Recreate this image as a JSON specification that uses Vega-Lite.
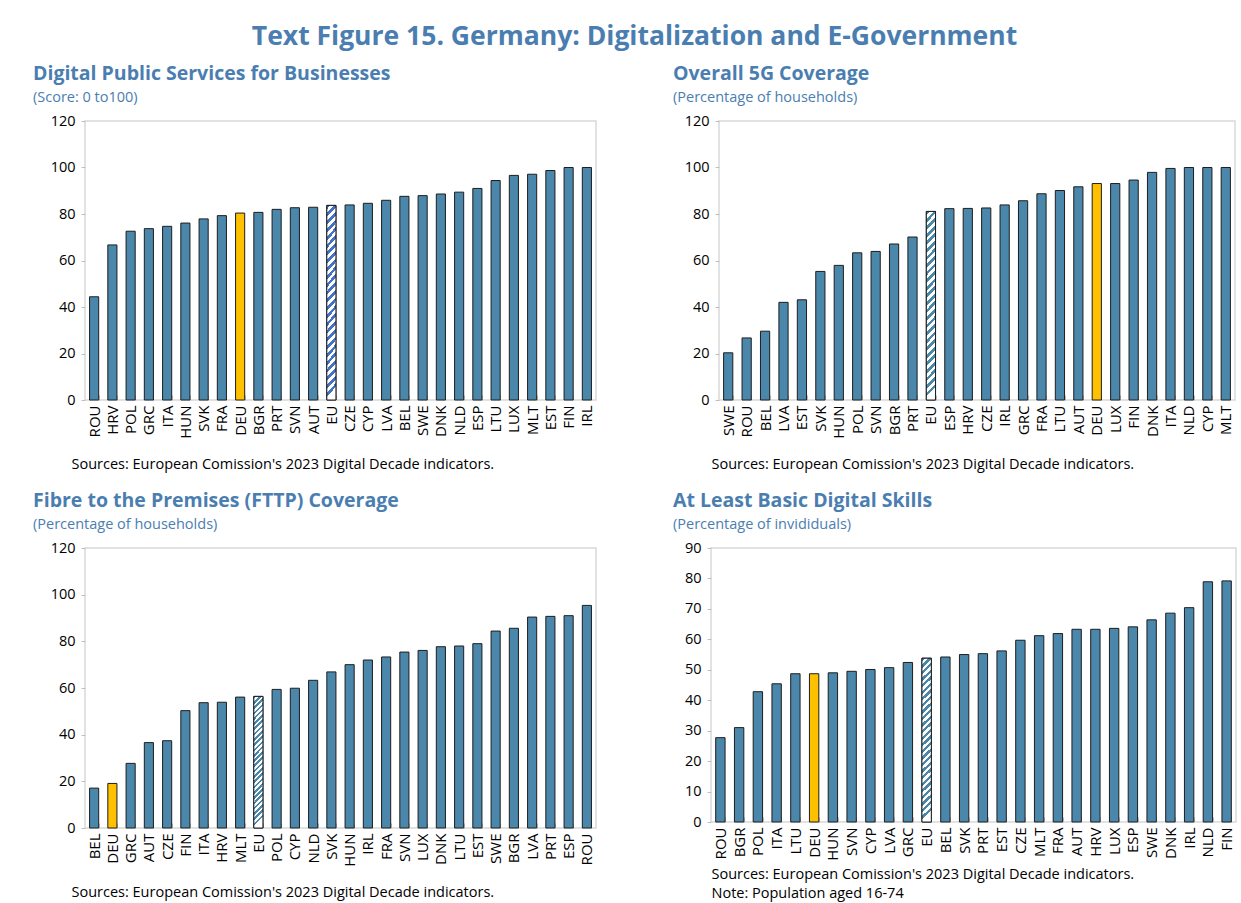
{
  "$schema": "https://vega.github.io/schema/vega-lite/v6.json",
  "background": "#ffffff",
  "padding": {"left": 32, "top": 23, "right": 5, "bottom": 5},
  "title": {"text": "Text Figure 15. Germany: Digitalization and E-Government", "anchor": "middle", "frame": "bounds", "fontSize": 26.5, "color": "#4a7eb0", "font": "Open Sans", "fontWeight": "bold", "offset": 13},
  "vconcat": [
    {
      "hconcat": [
        {
          "width": 511, "height": 279,
          "title": {"text": "Digital Public Services for Businesses", "subtitle": "(Score: 0 to100)", "dx": -52},
          "data": {"values": [
            {"c": "ROU", "v": 44.4}, {"c": "HRV", "v": 66.7}, {"c": "POL", "v": 72.6}, {"c": "GRC", "v": 73.7},
            {"c": "ITA", "v": 74.7}, {"c": "HUN", "v": 76.1}, {"c": "SVK", "v": 77.9}, {"c": "FRA", "v": 79.3},
            {"c": "DEU", "v": 80.4}, {"c": "BGR", "v": 80.7}, {"c": "PRT", "v": 82.0}, {"c": "SVN", "v": 82.7},
            {"c": "AUT", "v": 82.9}, {"c": "EU", "v": 83.7}, {"c": "CZE", "v": 83.9}, {"c": "CYP", "v": 84.6},
            {"c": "LVA", "v": 85.9}, {"c": "BEL", "v": 87.6}, {"c": "SWE", "v": 87.9}, {"c": "DNK", "v": 88.6},
            {"c": "NLD", "v": 89.4}, {"c": "ESP", "v": 91.0}, {"c": "LTU", "v": 94.4}, {"c": "LUX", "v": 96.6},
            {"c": "MLT", "v": 97.1}, {"c": "EST", "v": 98.7}, {"c": "FIN", "v": 100}, {"c": "IRL", "v": 100}
          ]},
          "encoding": {
            "x": {"field": "c", "type": "nominal", "sort": null, "scale": {"paddingInner": 0.5, "paddingOuter": 0.25}, "axis": {"title": "Sources: European Comission's 2023 Digital Decade indicators.", "titleX": -14}},
            "y": {"field": "v", "type": "quantitative", "scale": {"domain": [0, 120], "nice": false}, "axis": {"values": [0, 20, 40, 60, 80, 100, 120]}}
          },
          "layer": [
            {"mark": {"type": "bar", "stroke": "#1e1e1e", "strokeWidth": 1}, "encoding": {"fill": {"condition": {"test": "datum.c === 'DEU'", "value": "#ffc000"}, "value": "#4a87ab"}}},
            {"transform": [{"filter": "datum.c === 'EU'"}], "mark": {"type": "bar", "stroke": "#1e1e1e", "strokeWidth": 1, "fill": {"gradient": "linear", "x1": 0, "y1": 0, "x2": 0.05, "y2": 1, "stops": [
              {"offset": 0, "color": "#4472c4"}, {"offset": 0.02, "color": "#4472c4"}, {"offset": 0.02, "color": "#ffffff"}, {"offset": 0.04, "color": "#ffffff"},
              {"offset": 0.04, "color": "#4472c4"}, {"offset": 0.06, "color": "#4472c4"}, {"offset": 0.06, "color": "#ffffff"}, {"offset": 0.08, "color": "#ffffff"},
              {"offset": 0.08, "color": "#4472c4"}, {"offset": 0.1, "color": "#4472c4"}, {"offset": 0.1, "color": "#ffffff"}, {"offset": 0.12, "color": "#ffffff"},
              {"offset": 0.12, "color": "#4472c4"}, {"offset": 0.14, "color": "#4472c4"}, {"offset": 0.14, "color": "#ffffff"}, {"offset": 0.16, "color": "#ffffff"},
              {"offset": 0.16, "color": "#4472c4"}, {"offset": 0.18, "color": "#4472c4"}, {"offset": 0.18, "color": "#ffffff"}, {"offset": 0.2, "color": "#ffffff"},
              {"offset": 0.2, "color": "#4472c4"}, {"offset": 0.22, "color": "#4472c4"}, {"offset": 0.22, "color": "#ffffff"}, {"offset": 0.24, "color": "#ffffff"},
              {"offset": 0.24, "color": "#4472c4"}, {"offset": 0.26, "color": "#4472c4"}, {"offset": 0.26, "color": "#ffffff"}, {"offset": 0.28, "color": "#ffffff"},
              {"offset": 0.28, "color": "#4472c4"}, {"offset": 0.3, "color": "#4472c4"}, {"offset": 0.3, "color": "#ffffff"}, {"offset": 0.32, "color": "#ffffff"},
              {"offset": 0.32, "color": "#4472c4"}, {"offset": 0.34, "color": "#4472c4"}, {"offset": 0.34, "color": "#ffffff"}, {"offset": 0.36, "color": "#ffffff"},
              {"offset": 0.36, "color": "#4472c4"}, {"offset": 0.38, "color": "#4472c4"}, {"offset": 0.38, "color": "#ffffff"}, {"offset": 0.4, "color": "#ffffff"},
              {"offset": 0.4, "color": "#4472c4"}, {"offset": 0.42, "color": "#4472c4"}, {"offset": 0.42, "color": "#ffffff"}, {"offset": 0.44, "color": "#ffffff"},
              {"offset": 0.44, "color": "#4472c4"}, {"offset": 0.46, "color": "#4472c4"}, {"offset": 0.46, "color": "#ffffff"}, {"offset": 0.48, "color": "#ffffff"},
              {"offset": 0.48, "color": "#4472c4"}, {"offset": 0.5, "color": "#4472c4"}, {"offset": 0.5, "color": "#ffffff"}, {"offset": 0.52, "color": "#ffffff"},
              {"offset": 0.52, "color": "#4472c4"}, {"offset": 0.54, "color": "#4472c4"}, {"offset": 0.54, "color": "#ffffff"}, {"offset": 0.56, "color": "#ffffff"},
              {"offset": 0.56, "color": "#4472c4"}, {"offset": 0.58, "color": "#4472c4"}, {"offset": 0.58, "color": "#ffffff"}, {"offset": 0.6, "color": "#ffffff"},
              {"offset": 0.6, "color": "#4472c4"}, {"offset": 0.62, "color": "#4472c4"}, {"offset": 0.62, "color": "#ffffff"}, {"offset": 0.64, "color": "#ffffff"},
              {"offset": 0.64, "color": "#4472c4"}, {"offset": 0.66, "color": "#4472c4"}, {"offset": 0.66, "color": "#ffffff"}, {"offset": 0.68, "color": "#ffffff"},
              {"offset": 0.68, "color": "#4472c4"}, {"offset": 0.7, "color": "#4472c4"}, {"offset": 0.7, "color": "#ffffff"}, {"offset": 0.72, "color": "#ffffff"},
              {"offset": 0.72, "color": "#4472c4"}, {"offset": 0.74, "color": "#4472c4"}, {"offset": 0.74, "color": "#ffffff"}, {"offset": 0.76, "color": "#ffffff"},
              {"offset": 0.76, "color": "#4472c4"}, {"offset": 0.78, "color": "#4472c4"}, {"offset": 0.78, "color": "#ffffff"}, {"offset": 0.8, "color": "#ffffff"},
              {"offset": 0.8, "color": "#4472c4"}, {"offset": 0.82, "color": "#4472c4"}, {"offset": 0.82, "color": "#ffffff"}, {"offset": 0.84, "color": "#ffffff"},
              {"offset": 0.84, "color": "#4472c4"}, {"offset": 0.86, "color": "#4472c4"}, {"offset": 0.86, "color": "#ffffff"}, {"offset": 0.88, "color": "#ffffff"},
              {"offset": 0.88, "color": "#4472c4"}, {"offset": 0.9, "color": "#4472c4"}, {"offset": 0.9, "color": "#ffffff"}, {"offset": 0.92, "color": "#ffffff"},
              {"offset": 0.92, "color": "#4472c4"}, {"offset": 0.94, "color": "#4472c4"}, {"offset": 0.94, "color": "#ffffff"}, {"offset": 0.96, "color": "#ffffff"},
              {"offset": 0.96, "color": "#4472c4"}, {"offset": 0.98, "color": "#4472c4"}, {"offset": 0.98, "color": "#ffffff"}, {"offset": 1, "color": "#ffffff"}
            ]}}}
          ]
        },
        {
          "width": 516, "height": 279,
          "title": {"text": "Overall 5G Coverage", "subtitle": "(Percentage of households)", "dx": -46},
          "data": {"values": [
            {"c": "SWE", "v": 20.3}, {"c": "ROU", "v": 26.7}, {"c": "BEL", "v": 29.6}, {"c": "LVA", "v": 42.0},
            {"c": "EST", "v": 43.1}, {"c": "SVK", "v": 55.3}, {"c": "HUN", "v": 57.9}, {"c": "POL", "v": 63.3},
            {"c": "SVN", "v": 63.9}, {"c": "BGR", "v": 67.1}, {"c": "PRT", "v": 70.1}, {"c": "EU", "v": 81.1},
            {"c": "ESP", "v": 82.3}, {"c": "HRV", "v": 82.4}, {"c": "CZE", "v": 82.6}, {"c": "IRL", "v": 83.9},
            {"c": "GRC", "v": 85.7}, {"c": "FRA", "v": 88.7}, {"c": "LTU", "v": 90.1}, {"c": "AUT", "v": 91.7},
            {"c": "DEU", "v": 93.1}, {"c": "LUX", "v": 93.1}, {"c": "FIN", "v": 94.6}, {"c": "DNK", "v": 97.9},
            {"c": "ITA", "v": 99.6}, {"c": "NLD", "v": 100}, {"c": "CYP", "v": 100}, {"c": "MLT", "v": 100}
          ]},
          "encoding": {
            "x": {"field": "c", "type": "nominal", "sort": null, "scale": {"paddingInner": 0.5, "paddingOuter": 0.25}, "axis": {"title": "Sources: European Comission's 2023 Digital Decade indicators.", "titleX": -8}},
            "y": {"field": "v", "type": "quantitative", "scale": {"domain": [0, 120], "nice": false}, "axis": {"values": [0, 20, 40, 60, 80, 100, 120]}}
          },
          "layer": [
            {"mark": {"type": "bar", "stroke": "#1e1e1e", "strokeWidth": 1}, "encoding": {"fill": {"condition": {"test": "datum.c === 'DEU'", "value": "#ffc000"}, "value": "#4a87ab"}}},
            {"transform": [{"filter": "datum.c === 'EU'"}], "mark": {"type": "bar", "stroke": "#1e1e1e", "strokeWidth": 1, "fill": {"gradient": "linear", "x1": 0, "y1": 0, "x2": 0.05, "y2": 1, "stops": [
              {"offset": 0, "color": "#4a88ab"}, {"offset": 0.02, "color": "#4a88ab"}, {"offset": 0.02, "color": "#ffffff"}, {"offset": 0.04, "color": "#ffffff"},
              {"offset": 0.04, "color": "#4a88ab"}, {"offset": 0.06, "color": "#4a88ab"}, {"offset": 0.06, "color": "#ffffff"}, {"offset": 0.08, "color": "#ffffff"},
              {"offset": 0.08, "color": "#4a88ab"}, {"offset": 0.1, "color": "#4a88ab"}, {"offset": 0.1, "color": "#ffffff"}, {"offset": 0.12, "color": "#ffffff"},
              {"offset": 0.12, "color": "#4a88ab"}, {"offset": 0.14, "color": "#4a88ab"}, {"offset": 0.14, "color": "#ffffff"}, {"offset": 0.16, "color": "#ffffff"},
              {"offset": 0.16, "color": "#4a88ab"}, {"offset": 0.18, "color": "#4a88ab"}, {"offset": 0.18, "color": "#ffffff"}, {"offset": 0.2, "color": "#ffffff"},
              {"offset": 0.2, "color": "#4a88ab"}, {"offset": 0.22, "color": "#4a88ab"}, {"offset": 0.22, "color": "#ffffff"}, {"offset": 0.24, "color": "#ffffff"},
              {"offset": 0.24, "color": "#4a88ab"}, {"offset": 0.26, "color": "#4a88ab"}, {"offset": 0.26, "color": "#ffffff"}, {"offset": 0.28, "color": "#ffffff"},
              {"offset": 0.28, "color": "#4a88ab"}, {"offset": 0.3, "color": "#4a88ab"}, {"offset": 0.3, "color": "#ffffff"}, {"offset": 0.32, "color": "#ffffff"},
              {"offset": 0.32, "color": "#4a88ab"}, {"offset": 0.34, "color": "#4a88ab"}, {"offset": 0.34, "color": "#ffffff"}, {"offset": 0.36, "color": "#ffffff"},
              {"offset": 0.36, "color": "#4a88ab"}, {"offset": 0.38, "color": "#4a88ab"}, {"offset": 0.38, "color": "#ffffff"}, {"offset": 0.4, "color": "#ffffff"},
              {"offset": 0.4, "color": "#4a88ab"}, {"offset": 0.42, "color": "#4a88ab"}, {"offset": 0.42, "color": "#ffffff"}, {"offset": 0.44, "color": "#ffffff"},
              {"offset": 0.44, "color": "#4a88ab"}, {"offset": 0.46, "color": "#4a88ab"}, {"offset": 0.46, "color": "#ffffff"}, {"offset": 0.48, "color": "#ffffff"},
              {"offset": 0.48, "color": "#4a88ab"}, {"offset": 0.5, "color": "#4a88ab"}, {"offset": 0.5, "color": "#ffffff"}, {"offset": 0.52, "color": "#ffffff"},
              {"offset": 0.52, "color": "#4a88ab"}, {"offset": 0.54, "color": "#4a88ab"}, {"offset": 0.54, "color": "#ffffff"}, {"offset": 0.56, "color": "#ffffff"},
              {"offset": 0.56, "color": "#4a88ab"}, {"offset": 0.58, "color": "#4a88ab"}, {"offset": 0.58, "color": "#ffffff"}, {"offset": 0.6, "color": "#ffffff"},
              {"offset": 0.6, "color": "#4a88ab"}, {"offset": 0.62, "color": "#4a88ab"}, {"offset": 0.62, "color": "#ffffff"}, {"offset": 0.64, "color": "#ffffff"},
              {"offset": 0.64, "color": "#4a88ab"}, {"offset": 0.66, "color": "#4a88ab"}, {"offset": 0.66, "color": "#ffffff"}, {"offset": 0.68, "color": "#ffffff"},
              {"offset": 0.68, "color": "#4a88ab"}, {"offset": 0.7, "color": "#4a88ab"}, {"offset": 0.7, "color": "#ffffff"}, {"offset": 0.72, "color": "#ffffff"},
              {"offset": 0.72, "color": "#4a88ab"}, {"offset": 0.74, "color": "#4a88ab"}, {"offset": 0.74, "color": "#ffffff"}, {"offset": 0.76, "color": "#ffffff"},
              {"offset": 0.76, "color": "#4a88ab"}, {"offset": 0.78, "color": "#4a88ab"}, {"offset": 0.78, "color": "#ffffff"}, {"offset": 0.8, "color": "#ffffff"},
              {"offset": 0.8, "color": "#4a88ab"}, {"offset": 0.82, "color": "#4a88ab"}, {"offset": 0.82, "color": "#ffffff"}, {"offset": 0.84, "color": "#ffffff"},
              {"offset": 0.84, "color": "#4a88ab"}, {"offset": 0.86, "color": "#4a88ab"}, {"offset": 0.86, "color": "#ffffff"}, {"offset": 0.88, "color": "#ffffff"},
              {"offset": 0.88, "color": "#4a88ab"}, {"offset": 0.9, "color": "#4a88ab"}, {"offset": 0.9, "color": "#ffffff"}, {"offset": 0.92, "color": "#ffffff"},
              {"offset": 0.92, "color": "#4a88ab"}, {"offset": 0.94, "color": "#4a88ab"}, {"offset": 0.94, "color": "#ffffff"}, {"offset": 0.96, "color": "#ffffff"},
              {"offset": 0.96, "color": "#4a88ab"}, {"offset": 0.98, "color": "#4a88ab"}, {"offset": 0.98, "color": "#ffffff"}, {"offset": 1, "color": "#ffffff"}
            ]}}}
          ]
        }
      ]
    },
    {
      "hconcat": [
        {
          "width": 511, "height": 280,
          "title": {"text": "Fibre to the Premises (FTTP) Coverage", "subtitle": "(Percentage of households)", "dx": -52},
          "data": {"values": [
            {"c": "BEL", "v": 17.1}, {"c": "DEU", "v": 19.1}, {"c": "GRC", "v": 27.7}, {"c": "AUT", "v": 36.6},
            {"c": "CZE", "v": 37.4}, {"c": "FIN", "v": 50.3}, {"c": "ITA", "v": 53.7}, {"c": "HRV", "v": 53.9},
            {"c": "MLT", "v": 56.1}, {"c": "EU", "v": 56.4}, {"c": "POL", "v": 59.4}, {"c": "CYP", "v": 59.9},
            {"c": "NLD", "v": 63.3}, {"c": "SVK", "v": 66.9}, {"c": "HUN", "v": 70.0}, {"c": "IRL", "v": 72.0},
            {"c": "FRA", "v": 73.3}, {"c": "SVN", "v": 75.4}, {"c": "LUX", "v": 76.1}, {"c": "DNK", "v": 77.7},
            {"c": "LTU", "v": 78.0}, {"c": "EST", "v": 79.0}, {"c": "SWE", "v": 84.4}, {"c": "BGR", "v": 85.6},
            {"c": "LVA", "v": 90.4}, {"c": "PRT", "v": 90.7}, {"c": "ESP", "v": 91.0}, {"c": "ROU", "v": 95.4}
          ]},
          "encoding": {
            "x": {"field": "c", "type": "nominal", "sort": null, "scale": {"paddingInner": 0.5, "paddingOuter": 0.25}, "axis": {"title": "Sources: European Comission's 2023 Digital Decade indicators.", "titleX": -14}},
            "y": {"field": "v", "type": "quantitative", "scale": {"domain": [0, 120], "nice": false}, "axis": {"values": [0, 20, 40, 60, 80, 100, 120]}}
          },
          "layer": [
            {"mark": {"type": "bar", "stroke": "#1e1e1e", "strokeWidth": 1}, "encoding": {"fill": {"condition": {"test": "datum.c === 'DEU'", "value": "#ffc000"}, "value": "#4a87ab"}}},
            {"transform": [{"filter": "datum.c === 'EU'"}], "mark": {"type": "bar", "stroke": "#1e1e1e", "strokeWidth": 1, "fill": {"gradient": "linear", "x1": 0, "y1": 0, "x2": 0.07, "y2": 1, "stops": [
              {"offset": 0, "color": "#4a88ab"}, {"offset": 0.02, "color": "#4a88ab"}, {"offset": 0.02, "color": "#ffffff"}, {"offset": 0.04, "color": "#ffffff"},
              {"offset": 0.04, "color": "#4a88ab"}, {"offset": 0.06, "color": "#4a88ab"}, {"offset": 0.06, "color": "#ffffff"}, {"offset": 0.08, "color": "#ffffff"},
              {"offset": 0.08, "color": "#4a88ab"}, {"offset": 0.1, "color": "#4a88ab"}, {"offset": 0.1, "color": "#ffffff"}, {"offset": 0.12, "color": "#ffffff"},
              {"offset": 0.12, "color": "#4a88ab"}, {"offset": 0.14, "color": "#4a88ab"}, {"offset": 0.14, "color": "#ffffff"}, {"offset": 0.16, "color": "#ffffff"},
              {"offset": 0.16, "color": "#4a88ab"}, {"offset": 0.18, "color": "#4a88ab"}, {"offset": 0.18, "color": "#ffffff"}, {"offset": 0.2, "color": "#ffffff"},
              {"offset": 0.2, "color": "#4a88ab"}, {"offset": 0.22, "color": "#4a88ab"}, {"offset": 0.22, "color": "#ffffff"}, {"offset": 0.24, "color": "#ffffff"},
              {"offset": 0.24, "color": "#4a88ab"}, {"offset": 0.26, "color": "#4a88ab"}, {"offset": 0.26, "color": "#ffffff"}, {"offset": 0.28, "color": "#ffffff"},
              {"offset": 0.28, "color": "#4a88ab"}, {"offset": 0.3, "color": "#4a88ab"}, {"offset": 0.3, "color": "#ffffff"}, {"offset": 0.32, "color": "#ffffff"},
              {"offset": 0.32, "color": "#4a88ab"}, {"offset": 0.34, "color": "#4a88ab"}, {"offset": 0.34, "color": "#ffffff"}, {"offset": 0.36, "color": "#ffffff"},
              {"offset": 0.36, "color": "#4a88ab"}, {"offset": 0.38, "color": "#4a88ab"}, {"offset": 0.38, "color": "#ffffff"}, {"offset": 0.4, "color": "#ffffff"},
              {"offset": 0.4, "color": "#4a88ab"}, {"offset": 0.42, "color": "#4a88ab"}, {"offset": 0.42, "color": "#ffffff"}, {"offset": 0.44, "color": "#ffffff"},
              {"offset": 0.44, "color": "#4a88ab"}, {"offset": 0.46, "color": "#4a88ab"}, {"offset": 0.46, "color": "#ffffff"}, {"offset": 0.48, "color": "#ffffff"},
              {"offset": 0.48, "color": "#4a88ab"}, {"offset": 0.5, "color": "#4a88ab"}, {"offset": 0.5, "color": "#ffffff"}, {"offset": 0.52, "color": "#ffffff"},
              {"offset": 0.52, "color": "#4a88ab"}, {"offset": 0.54, "color": "#4a88ab"}, {"offset": 0.54, "color": "#ffffff"}, {"offset": 0.56, "color": "#ffffff"},
              {"offset": 0.56, "color": "#4a88ab"}, {"offset": 0.58, "color": "#4a88ab"}, {"offset": 0.58, "color": "#ffffff"}, {"offset": 0.6, "color": "#ffffff"},
              {"offset": 0.6, "color": "#4a88ab"}, {"offset": 0.62, "color": "#4a88ab"}, {"offset": 0.62, "color": "#ffffff"}, {"offset": 0.64, "color": "#ffffff"},
              {"offset": 0.64, "color": "#4a88ab"}, {"offset": 0.66, "color": "#4a88ab"}, {"offset": 0.66, "color": "#ffffff"}, {"offset": 0.68, "color": "#ffffff"},
              {"offset": 0.68, "color": "#4a88ab"}, {"offset": 0.7, "color": "#4a88ab"}, {"offset": 0.7, "color": "#ffffff"}, {"offset": 0.72, "color": "#ffffff"},
              {"offset": 0.72, "color": "#4a88ab"}, {"offset": 0.74, "color": "#4a88ab"}, {"offset": 0.74, "color": "#ffffff"}, {"offset": 0.76, "color": "#ffffff"},
              {"offset": 0.76, "color": "#4a88ab"}, {"offset": 0.78, "color": "#4a88ab"}, {"offset": 0.78, "color": "#ffffff"}, {"offset": 0.8, "color": "#ffffff"},
              {"offset": 0.8, "color": "#4a88ab"}, {"offset": 0.82, "color": "#4a88ab"}, {"offset": 0.82, "color": "#ffffff"}, {"offset": 0.84, "color": "#ffffff"},
              {"offset": 0.84, "color": "#4a88ab"}, {"offset": 0.86, "color": "#4a88ab"}, {"offset": 0.86, "color": "#ffffff"}, {"offset": 0.88, "color": "#ffffff"},
              {"offset": 0.88, "color": "#4a88ab"}, {"offset": 0.9, "color": "#4a88ab"}, {"offset": 0.9, "color": "#ffffff"}, {"offset": 0.92, "color": "#ffffff"},
              {"offset": 0.92, "color": "#4a88ab"}, {"offset": 0.94, "color": "#4a88ab"}, {"offset": 0.94, "color": "#ffffff"}, {"offset": 0.96, "color": "#ffffff"},
              {"offset": 0.96, "color": "#4a88ab"}, {"offset": 0.98, "color": "#4a88ab"}, {"offset": 0.98, "color": "#ffffff"}, {"offset": 1, "color": "#ffffff"}
            ]}}}
          ]
        },
        {
          "width": 525, "height": 274,
          "title": {"text": "At Least Basic Digital Skills", "subtitle": "(Percentage of invididuals)", "dx": -38},
          "data": {"values": [
            {"c": "ROU", "v": 27.7}, {"c": "BGR", "v": 31.0}, {"c": "POL", "v": 42.8}, {"c": "ITA", "v": 45.4},
            {"c": "LTU", "v": 48.7}, {"c": "DEU", "v": 48.7}, {"c": "HUN", "v": 49.0}, {"c": "SVN", "v": 49.5},
            {"c": "CYP", "v": 50.1}, {"c": "LVA", "v": 50.7}, {"c": "GRC", "v": 52.4}, {"c": "EU", "v": 53.8},
            {"c": "BEL", "v": 54.2}, {"c": "SVK", "v": 55.0}, {"c": "PRT", "v": 55.3}, {"c": "EST", "v": 56.2},
            {"c": "CZE", "v": 59.7}, {"c": "MLT", "v": 61.2}, {"c": "FRA", "v": 61.9}, {"c": "AUT", "v": 63.3},
            {"c": "HRV", "v": 63.3}, {"c": "LUX", "v": 63.6}, {"c": "ESP", "v": 64.1}, {"c": "SWE", "v": 66.4},
            {"c": "DNK", "v": 68.6}, {"c": "IRL", "v": 70.4}, {"c": "NLD", "v": 78.9}, {"c": "FIN", "v": 79.2}
          ]},
          "encoding": {
            "x": {"field": "c", "type": "nominal", "sort": null, "scale": {"paddingInner": 0.5, "paddingOuter": 0.25}, "axis": {"title": ["Sources: European Comission's 2023 Digital Decade indicators.", "Note: Population aged 16-74"], "titleX": 0, "titlePadding": 7, "titleLineHeight": 19}},
            "y": {"field": "v", "type": "quantitative", "scale": {"domain": [0, 90], "nice": false}, "axis": {"values": [0, 10, 20, 30, 40, 50, 60, 70, 80, 90]}}
          },
          "layer": [
            {"mark": {"type": "bar", "stroke": "#1e1e1e", "strokeWidth": 1}, "encoding": {"fill": {"condition": {"test": "datum.c === 'DEU'", "value": "#ffc000"}, "value": "#4a87ab"}}},
            {"transform": [{"filter": "datum.c === 'EU'"}], "mark": {"type": "bar", "stroke": "#1e1e1e", "strokeWidth": 1, "fill": {"gradient": "linear", "x1": 0, "y1": 0, "x2": 0.055, "y2": 1, "stops": [
              {"offset": 0, "color": "#4a88ab"}, {"offset": 0.02, "color": "#4a88ab"}, {"offset": 0.02, "color": "#ffffff"}, {"offset": 0.04, "color": "#ffffff"},
              {"offset": 0.04, "color": "#4a88ab"}, {"offset": 0.06, "color": "#4a88ab"}, {"offset": 0.06, "color": "#ffffff"}, {"offset": 0.08, "color": "#ffffff"},
              {"offset": 0.08, "color": "#4a88ab"}, {"offset": 0.1, "color": "#4a88ab"}, {"offset": 0.1, "color": "#ffffff"}, {"offset": 0.12, "color": "#ffffff"},
              {"offset": 0.12, "color": "#4a88ab"}, {"offset": 0.14, "color": "#4a88ab"}, {"offset": 0.14, "color": "#ffffff"}, {"offset": 0.16, "color": "#ffffff"},
              {"offset": 0.16, "color": "#4a88ab"}, {"offset": 0.18, "color": "#4a88ab"}, {"offset": 0.18, "color": "#ffffff"}, {"offset": 0.2, "color": "#ffffff"},
              {"offset": 0.2, "color": "#4a88ab"}, {"offset": 0.22, "color": "#4a88ab"}, {"offset": 0.22, "color": "#ffffff"}, {"offset": 0.24, "color": "#ffffff"},
              {"offset": 0.24, "color": "#4a88ab"}, {"offset": 0.26, "color": "#4a88ab"}, {"offset": 0.26, "color": "#ffffff"}, {"offset": 0.28, "color": "#ffffff"},
              {"offset": 0.28, "color": "#4a88ab"}, {"offset": 0.3, "color": "#4a88ab"}, {"offset": 0.3, "color": "#ffffff"}, {"offset": 0.32, "color": "#ffffff"},
              {"offset": 0.32, "color": "#4a88ab"}, {"offset": 0.34, "color": "#4a88ab"}, {"offset": 0.34, "color": "#ffffff"}, {"offset": 0.36, "color": "#ffffff"},
              {"offset": 0.36, "color": "#4a88ab"}, {"offset": 0.38, "color": "#4a88ab"}, {"offset": 0.38, "color": "#ffffff"}, {"offset": 0.4, "color": "#ffffff"},
              {"offset": 0.4, "color": "#4a88ab"}, {"offset": 0.42, "color": "#4a88ab"}, {"offset": 0.42, "color": "#ffffff"}, {"offset": 0.44, "color": "#ffffff"},
              {"offset": 0.44, "color": "#4a88ab"}, {"offset": 0.46, "color": "#4a88ab"}, {"offset": 0.46, "color": "#ffffff"}, {"offset": 0.48, "color": "#ffffff"},
              {"offset": 0.48, "color": "#4a88ab"}, {"offset": 0.5, "color": "#4a88ab"}, {"offset": 0.5, "color": "#ffffff"}, {"offset": 0.52, "color": "#ffffff"},
              {"offset": 0.52, "color": "#4a88ab"}, {"offset": 0.54, "color": "#4a88ab"}, {"offset": 0.54, "color": "#ffffff"}, {"offset": 0.56, "color": "#ffffff"},
              {"offset": 0.56, "color": "#4a88ab"}, {"offset": 0.58, "color": "#4a88ab"}, {"offset": 0.58, "color": "#ffffff"}, {"offset": 0.6, "color": "#ffffff"},
              {"offset": 0.6, "color": "#4a88ab"}, {"offset": 0.62, "color": "#4a88ab"}, {"offset": 0.62, "color": "#ffffff"}, {"offset": 0.64, "color": "#ffffff"},
              {"offset": 0.64, "color": "#4a88ab"}, {"offset": 0.66, "color": "#4a88ab"}, {"offset": 0.66, "color": "#ffffff"}, {"offset": 0.68, "color": "#ffffff"},
              {"offset": 0.68, "color": "#4a88ab"}, {"offset": 0.7, "color": "#4a88ab"}, {"offset": 0.7, "color": "#ffffff"}, {"offset": 0.72, "color": "#ffffff"},
              {"offset": 0.72, "color": "#4a88ab"}, {"offset": 0.74, "color": "#4a88ab"}, {"offset": 0.74, "color": "#ffffff"}, {"offset": 0.76, "color": "#ffffff"},
              {"offset": 0.76, "color": "#4a88ab"}, {"offset": 0.78, "color": "#4a88ab"}, {"offset": 0.78, "color": "#ffffff"}, {"offset": 0.8, "color": "#ffffff"},
              {"offset": 0.8, "color": "#4a88ab"}, {"offset": 0.82, "color": "#4a88ab"}, {"offset": 0.82, "color": "#ffffff"}, {"offset": 0.84, "color": "#ffffff"},
              {"offset": 0.84, "color": "#4a88ab"}, {"offset": 0.86, "color": "#4a88ab"}, {"offset": 0.86, "color": "#ffffff"}, {"offset": 0.88, "color": "#ffffff"},
              {"offset": 0.88, "color": "#4a88ab"}, {"offset": 0.9, "color": "#4a88ab"}, {"offset": 0.9, "color": "#ffffff"}, {"offset": 0.92, "color": "#ffffff"},
              {"offset": 0.92, "color": "#4a88ab"}, {"offset": 0.94, "color": "#4a88ab"}, {"offset": 0.94, "color": "#ffffff"}, {"offset": 0.96, "color": "#ffffff"},
              {"offset": 0.96, "color": "#4a88ab"}, {"offset": 0.98, "color": "#4a88ab"}, {"offset": 0.98, "color": "#ffffff"}, {"offset": 1, "color": "#ffffff"}
            ]}}}
          ]
        }
      ],
      "spacing": 75
    }
  ],
  "spacing": 18,
  "config": {
    "font": "Open Sans",
    "view": {"stroke": "#d9d9d9", "strokeWidth": 1.5},
    "concat": {"spacing": 75},
    "title": {"anchor": "start", "frame": "group", "font": "Open Sans", "fontSize": 19.5, "fontWeight": "bold", "color": "#4a7eb0", "subtitleFont": "Open Sans", "subtitleFontSize": 14.5, "subtitleColor": "#4a7eb0", "subtitlePadding": 6, "offset": 8},
    "axis": {"labelFont": "Open Sans", "labelFontSize": 14.5, "labelColor": "#000000", "tickColor": "#bfbfbf", "domain": false, "grid": false, "titleFont": "Open Sans", "titleFontWeight": "normal", "titleColor": "#000000", "titleFontSize": 14.5},
    "axisX": {"labelAngle": -90, "labelFontSize": 15, "tickBand": "extent", "tickSize": -5, "labelPadding": 10, "titleAnchor": "start", "titleAlign": "left", "titlePadding": 19},
    "axisY": {"tickSize": 4, "labelPadding": 6, "title": null}
  }
}
